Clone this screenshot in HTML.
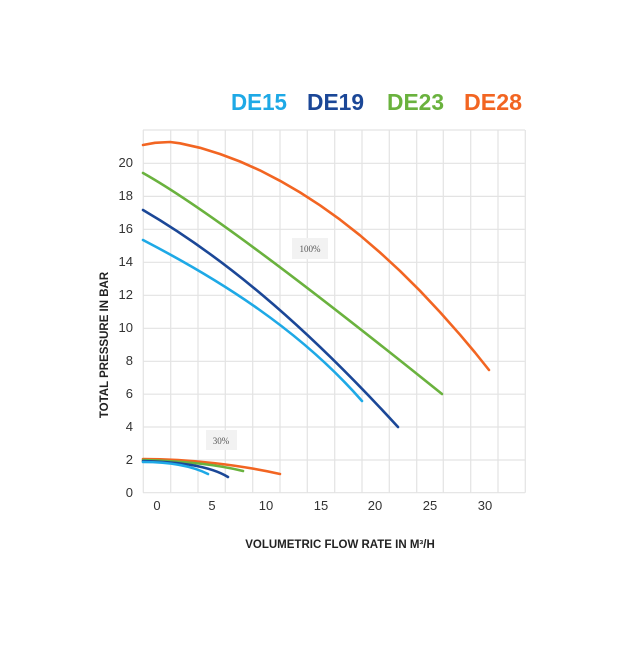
<!DOCTYPE html>
<html><head><style>
body{margin:0;background:#fff;width:640px;height:640px;overflow:hidden}
</style></head><body>
<svg width="640" height="640" viewBox="0 0 640 640" xmlns="http://www.w3.org/2000/svg" font-family="Liberation Sans, sans-serif">
<rect width="640" height="640" fill="#fff"/>
<g stroke="#e3e3e3" stroke-width="1.2">
<line x1="143.3" y1="130" x2="143.3" y2="492.7"/><line x1="170.7" y1="130" x2="170.7" y2="492.7"/><line x1="198" y1="130" x2="198" y2="492.7"/><line x1="225.3" y1="130" x2="225.3" y2="492.7"/><line x1="252.7" y1="130" x2="252.7" y2="492.7"/><line x1="280" y1="130" x2="280" y2="492.7"/><line x1="307.3" y1="130" x2="307.3" y2="492.7"/><line x1="334.7" y1="130" x2="334.7" y2="492.7"/><line x1="362" y1="130" x2="362" y2="492.7"/><line x1="389.3" y1="130" x2="389.3" y2="492.7"/><line x1="416.7" y1="130" x2="416.7" y2="492.7"/><line x1="443.3" y1="130" x2="443.3" y2="492.7"/><line x1="470.7" y1="130" x2="470.7" y2="492.7"/><line x1="498" y1="130" x2="498" y2="492.7"/><line x1="525.3" y1="130" x2="525.3" y2="492.7"/>
<line x1="143" y1="130" x2="525" y2="130"/><line x1="143" y1="163.3" x2="525" y2="163.3"/><line x1="143" y1="196.4" x2="525" y2="196.4"/><line x1="143" y1="229.3" x2="525" y2="229.3"/><line x1="143" y1="262.3" x2="525" y2="262.3"/><line x1="143" y1="295.3" x2="525" y2="295.3"/><line x1="143" y1="328.3" x2="525" y2="328.3"/><line x1="143" y1="361.3" x2="525" y2="361.3"/><line x1="143" y1="394.2" x2="525" y2="394.2"/><line x1="143" y1="427" x2="525" y2="427"/><line x1="143" y1="460" x2="525" y2="460"/><line x1="143" y1="492.7" x2="525" y2="492.7"/>
</g>
<g font-size="13" fill="#333" text-anchor="end">
<text x="133" y="497">0</text><text x="133" y="464">2</text><text x="133" y="431">4</text><text x="133" y="398">6</text><text x="133" y="365">8</text><text x="133" y="332">10</text><text x="133" y="299">12</text><text x="133" y="266">14</text><text x="133" y="233">16</text><text x="133" y="200">18</text><text x="133" y="167">20</text>
</g>
<g font-size="13" fill="#333" text-anchor="middle">
<text x="157" y="510">0</text><text x="212" y="510">5</text><text x="266" y="510">10</text><text x="321" y="510">15</text><text x="375" y="510">20</text><text x="430" y="510">25</text><text x="485" y="510">30</text>
</g>
<text x="340" y="548" font-size="11.5" font-weight="bold" fill="#222" text-anchor="middle">VOLUMETRIC FLOW RATE IN M³/H</text>
<text transform="translate(108,345) rotate(-90)" font-size="11.5" font-weight="bold" fill="#222" text-anchor="middle">TOTAL PRESSURE IN BAR</text>
<g font-size="23" font-weight="bold" text-anchor="start">
<text x="231" y="110" fill="#1ea9e6" textLength="56" lengthAdjust="spacingAndGlyphs">DE15</text>
<text x="307" y="110" fill="#1b4797" textLength="57" lengthAdjust="spacingAndGlyphs">DE19</text>
<text x="387" y="110" fill="#6ab23e" textLength="57" lengthAdjust="spacingAndGlyphs">DE23</text>
<text x="464" y="110" fill="#f26522" textLength="58" lengthAdjust="spacingAndGlyphs">DE28</text>
</g>
<rect x="292" y="238" width="36" height="21" fill="#f2f2f2"/>
<text x="310" y="252" font-size="9" font-family="Liberation Serif, serif" fill="#555" text-anchor="middle">100%</text>
<rect x="206" y="430" width="31" height="20" fill="#f2f2f2"/>
<text x="221" y="444" font-size="9" font-family="Liberation Serif, serif" fill="#555" text-anchor="middle">30%</text>
<g fill="none" stroke-width="2.6" stroke-linecap="round" stroke-linejoin="round">
<polyline points="143,145 155,142.8 170,142 180,143.3 200,147.8 220,154 240,161.5 260,170.4 280,180.8 300,192.4 320,205.3 340,219.6 360,235.3 380,252.5 400,270.9 420,290.8 440,312.1 460,334.7 475,352.5 489,370" stroke="#f26522"/>
<path d="M143,173 C200,205 300,280 442,394" stroke="#6ab23e"/>
<path d="M143,210 C220,255 300,320 398,427" stroke="#1b4797"/>
<path d="M143,240 C220,280 300,330 362,401" stroke="#1ea9e6"/>
<path d="M143,459 C190,459 240,465 280,474" stroke="#f26522"/>
<path d="M143,460 C180,461 215,464 243,471" stroke="#6ab23e"/>
<path d="M143,461 C180,462 210,466 228,477" stroke="#1b4797"/>
<path d="M143,462 C170,462 192,466 208,474" stroke="#1ea9e6"/>
</g>
</svg>
</body></html>
